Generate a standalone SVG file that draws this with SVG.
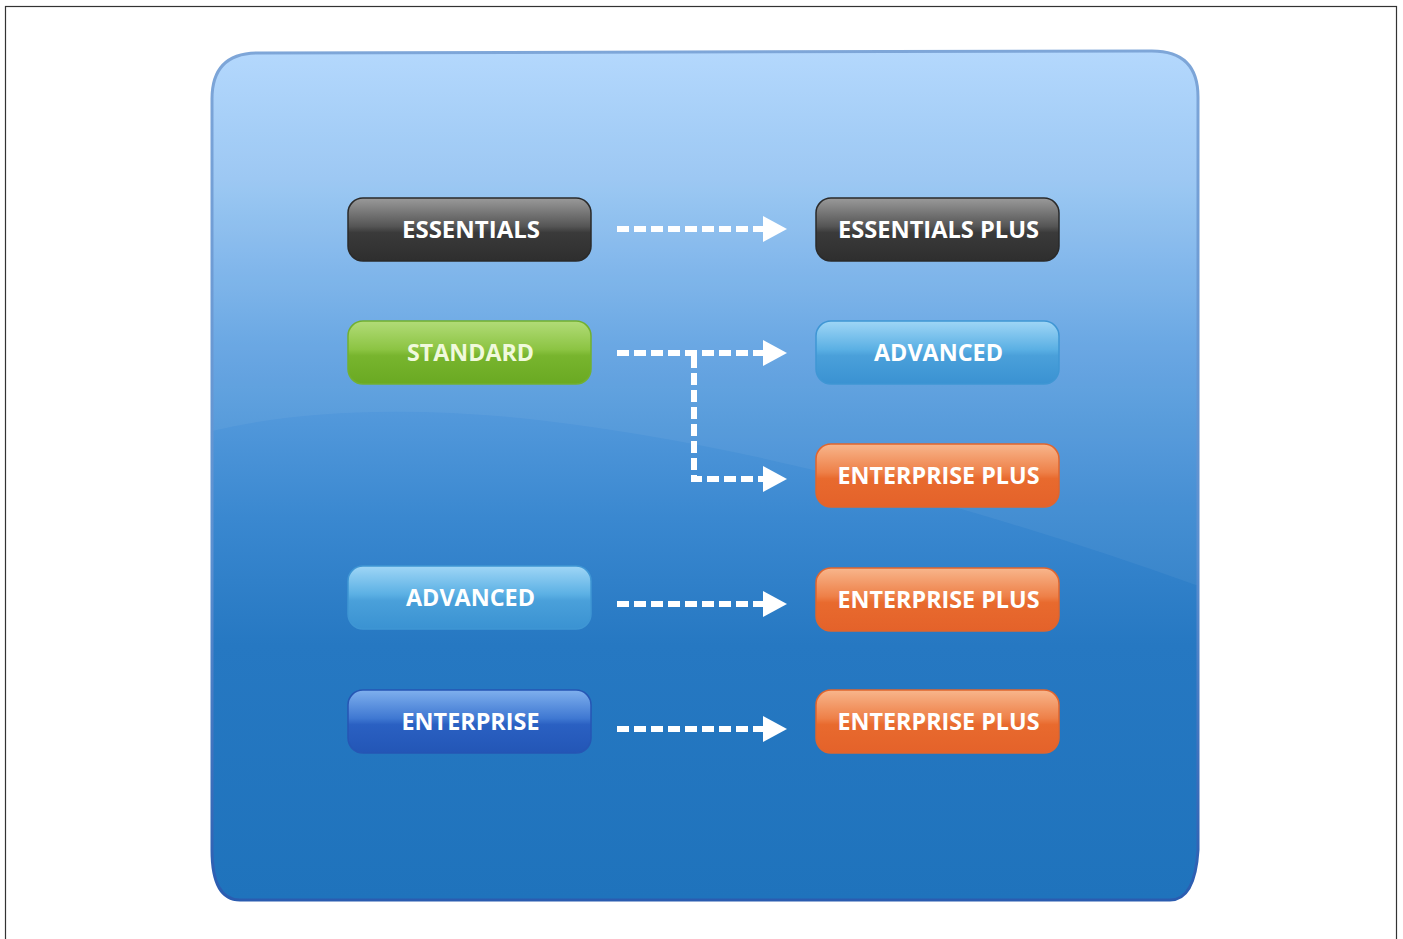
<svg xmlns="http://www.w3.org/2000/svg" width="1403" height="939" viewBox="0 0 1403 939">
<defs>
<linearGradient id="panel" x1="0" y1="0" x2="0" y2="1">
<stop offset="0" stop-color="#b0d6fd"/>
<stop offset="0.15" stop-color="#98c6f3"/>
<stop offset="0.35" stop-color="#62a3e2"/>
<stop offset="0.55" stop-color="#3a88d0"/>
<stop offset="0.7" stop-color="#2678c2"/>
<stop offset="1" stop-color="#1f73bc"/>
</linearGradient>
<linearGradient id="panelStroke" x1="0" y1="0" x2="0" y2="1">
<stop offset="0" stop-color="#7ea6d8"/>
<stop offset="0.6" stop-color="#5a8fd0"/>
<stop offset="1" stop-color="#2a5cb0"/>
</linearGradient>
<clipPath id="panelClip">
<path d="M258,53 L1152,51 Q1198,51 1198,97 L1198,850 Q1195,900 1170,900 L240,900 Q212,900 212,850 L212,99 Q212,53 258,53 Z"/>
</clipPath>
<linearGradient id="gDark" x1="0" y1="0" x2="0" y2="1">
<stop offset="0" stop-color="#9a9a9a"/>
<stop offset="0.45" stop-color="#555"/>
<stop offset="0.55" stop-color="#3a3a3a"/>
<stop offset="1" stop-color="#2e2e2e"/>
</linearGradient>
<linearGradient id="gGreen" x1="0" y1="0" x2="0" y2="1">
<stop offset="0" stop-color="#b2dc78"/>
<stop offset="0.45" stop-color="#8cc443"/>
<stop offset="0.55" stop-color="#78b52e"/>
<stop offset="1" stop-color="#6aa922"/>
</linearGradient>
<linearGradient id="gLight" x1="0" y1="0" x2="0" y2="1">
<stop offset="0" stop-color="#9fd6f6"/>
<stop offset="0.45" stop-color="#5bb0e4"/>
<stop offset="0.55" stop-color="#4aa0da"/>
<stop offset="1" stop-color="#3a92d2"/>
</linearGradient>
<linearGradient id="gOrange" x1="0" y1="0" x2="0" y2="1">
<stop offset="0" stop-color="#f8b68c"/>
<stop offset="0.45" stop-color="#ee8048"/>
<stop offset="0.55" stop-color="#e86a2e"/>
<stop offset="1" stop-color="#e4622a"/>
</linearGradient>
<linearGradient id="gBlue" x1="0" y1="0" x2="0" y2="1">
<stop offset="0" stop-color="#7fb0ee"/>
<stop offset="0.45" stop-color="#3f78d2"/>
<stop offset="0.55" stop-color="#2a60c2"/>
<stop offset="1" stop-color="#2356b6"/>
</linearGradient>
<style>
.btn{stroke-width:1.5}
.lbl{font-family:"Open Sans","Noto Sans","Liberation Sans",sans-serif;font-weight:bold;font-size:23px;fill:#ffffff;text-anchor:middle}
.dash{fill:none;stroke:#ffffff;stroke-width:6;stroke-dasharray:12 5}
.head{fill:#ffffff}
</style>
</defs>
<rect x="5.5" y="6.5" width="1391" height="940" fill="#ffffff" stroke="#333333" stroke-width="1.2"/>
<g id="panel-bg">
<path d="M258,53 L1152,51 Q1198,51 1198,97 L1198,850 Q1195,900 1170,900 L240,900 Q212,900 212,850 L212,99 Q212,53 258,53 Z" fill="url(#panel)"/>
<path clip-path="url(#panelClip)" d="M200,434 Q330,400 520,418 Q820,450 1210,590 L1210,40 L200,40 Z" fill="#ffffff" opacity="0.05"/>
<path d="M258,53 L1152,51 Q1198,51 1198,97 L1198,850 Q1195,900 1170,900 L240,900 Q212,900 212,850 L212,99 Q212,53 258,53 Z" fill="none" stroke="url(#panelStroke)" stroke-width="3"/>
</g>
<g id="connectors">
<path class="dash" d="M617,229 H763"/>
<polygon class="head" points="763,216 787,229 763,242"/>
<path class="dash" d="M617,353 H763"/>
<polygon class="head" points="763,340 787,353 763,366"/>
<path class="dash" d="M694,356 V479 H763"/>
<polygon class="head" points="763,466 787,479 763,492"/>
<path class="dash" d="M617,604 H763"/>
<polygon class="head" points="763,591 787,604 763,617"/>
<path class="dash" d="M617,729 H763"/>
<polygon class="head" points="763,716 787,729 763,742"/>
</g>
<g id="essentials">
<rect class="btn" x="348" y="198" width="243" height="63" rx="15" fill="url(#gDark)" stroke="#2a2a2a"/>
<text class="lbl" x="471" y="238" textLength="138" lengthAdjust="spacingAndGlyphs">ESSENTIALS</text>
</g>
<g id="essentials-plus">
<rect class="btn" x="816" y="198" width="243" height="63" rx="15" fill="url(#gDark)" stroke="#2a2a2a"/>
<text class="lbl" x="938.5" y="238" textLength="201" lengthAdjust="spacingAndGlyphs">ESSENTIALS PLUS</text>
</g>
<g id="standard">
<rect class="btn" x="348" y="321" width="243" height="63" rx="15" fill="url(#gGreen)" stroke="#72b030"/>
<text class="lbl" x="470.5" y="361" textLength="127" lengthAdjust="spacingAndGlyphs" style="fill:#f0f9dc">STANDARD</text>
</g>
<g id="advanced-right">
<rect class="btn" x="816" y="321" width="243" height="63" rx="15" fill="url(#gLight)" stroke="#3f96d4"/>
<text class="lbl" x="938.5" y="361" textLength="129" lengthAdjust="spacingAndGlyphs">ADVANCED</text>
</g>
<g id="enterprise-plus-1">
<rect class="btn" x="816" y="444" width="243" height="63" rx="15" fill="url(#gOrange)" stroke="#e0652e"/>
<text class="lbl" x="938.5" y="484" textLength="202" lengthAdjust="spacingAndGlyphs">ENTERPRISE PLUS</text>
</g>
<g id="advanced-left">
<rect class="btn" x="348" y="566" width="243" height="63" rx="15" fill="url(#gLight)" stroke="#3f96d4"/>
<text class="lbl" x="470.5" y="606" textLength="129" lengthAdjust="spacingAndGlyphs">ADVANCED</text>
</g>
<g id="enterprise-plus-2">
<rect class="btn" x="816" y="568" width="243" height="63" rx="15" fill="url(#gOrange)" stroke="#e0652e"/>
<text class="lbl" x="938.5" y="608" textLength="202" lengthAdjust="spacingAndGlyphs">ENTERPRISE PLUS</text>
</g>
<g id="enterprise">
<rect class="btn" x="348" y="690" width="243" height="63" rx="15" fill="url(#gBlue)" stroke="#2656b4"/>
<text class="lbl" x="470.5" y="730" textLength="138" lengthAdjust="spacingAndGlyphs">ENTERPRISE</text>
</g>
<g id="enterprise-plus-3">
<rect class="btn" x="816" y="690" width="243" height="63" rx="15" fill="url(#gOrange)" stroke="#e0652e"/>
<text class="lbl" x="938.5" y="730" textLength="202" lengthAdjust="spacingAndGlyphs">ENTERPRISE PLUS</text>
</g>
</svg>
